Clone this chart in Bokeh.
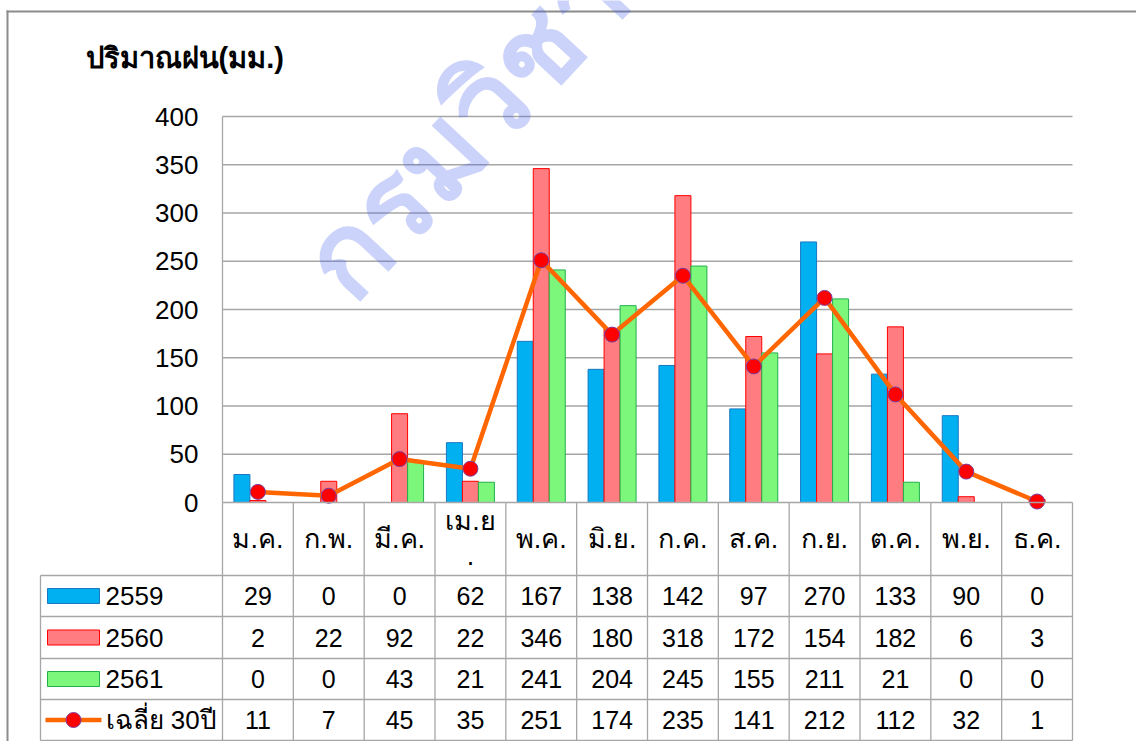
import numpy as np
from bokeh.plotting import figure
from bokeh.models import Range1d, LinearAxis, FixedTicker
from bokeh.core.properties import value
from bokeh.embed import file_html
from bokeh.resources import INLINE

# ---------------- data ----------------
months = ["ม.ค.", "ก.พ.", "มี.ค.", "เม.ย.", "พ.ค.", "มิ.ย.",
          "ก.ค.", "ส.ค.", "ก.ย.", "ต.ค.", "พ.ย.", "ธ.ค."]
series_names = ["2559", "2560", "2561"]
rain_2559 = [29, 0, 0, 62, 167, 138, 142, 97, 270, 133, 90, 0]
rain_2560 = [2, 22, 92, 22, 346, 180, 318, 172, 154, 182, 6, 3]
rain_2561 = [0, 0, 43, 21, 241, 204, 245, 155, 211, 21, 0, 0]
avg_name = "เฉลี่ย 30ปี"
avg_30yr = [11, 7, 45, 35, 251, 174, 235, 141, 212, 112, 32, 1]
y_ticks = [0, 50, 100, 150, 200, 250, 300, 350, 400]
y_title = "ปริมาณฝน(มม.)"
watermark = "กรมวิชาการเกษตร"

# ---------------- layout constants (picture pixels) ----------------
W, H = 1136, 741
PX = 850 / 12          # pixels per category
PY = 386 / 400         # pixels per mm
LEFT = 222             # x of plot-area left edge
ZERO = 502             # y of value 0


def X(px):
    return (px - LEFT) / PX


def Y(py):
    return (ZERO - py) / PY


FONT = value("Liberation Sans")
GRID = "#A6A6A6"
TXT = "#000000"

p = figure(width=W, height=H,
           x_range=Range1d(X(0), X(W)),
           y_range=Range1d(Y(H), Y(0)),
           x_axis_type=None, y_axis_type=None,
           output_backend="svg", toolbar_location=None, min_border=0)
p.outline_line_color = None
p.background_fill_color = "white"
p.border_fill_color = "white"

n = len(months)
cat = np.arange(n) + 0.5

# outer chart border (top and left visible)
p.segment(x0=[X(6), X(7)], y0=[Y(11), Y(10)],
          x1=[X(W), X(7)], y1=[Y(11), Y(H)],
          line_color="#8C8C8C", line_width=2)

# gridlines
gt = y_ticks[1:]
p.segment(x0=[0] * len(gt), x1=[n] * len(gt), y0=gt, y1=gt,
          line_color=GRID, line_width=1.3)

# y axis (real axis at plot-area left)
yaxis = LinearAxis(ticker=FixedTicker(ticks=y_ticks), fixed_location=0,
                   bounds=(y_ticks[0], y_ticks[-1]))
yaxis.axis_line_color = GRID
yaxis.axis_line_width = 1.3
yaxis.major_tick_line_color = None
yaxis.minor_tick_line_color = None
yaxis.major_tick_out = 0
yaxis.major_tick_in = 0
yaxis.major_label_standoff = 24
yaxis.major_label_text_font_size = "26px"
yaxis.major_label_text_font = "Liberation Sans"
yaxis.major_label_text_color = TXT
p.add_layout(yaxis, "left")

# watermark (behind the data marks)
p.text(x=[X(323)], y=[Y(279)], text=[watermark], angle=0.82,
       text_align="left", text_baseline="alphabetic", text_font=FONT,
       text_font_size="115px", text_font_style="bold",
       text_color="#4862EE", text_alpha=0.28)

# bars
bw = 16 / PX
fills = ["#00B0F0", "#FF7C80", "#7CF77C"]
lines = ["#1A78C2", "#FF0000", "#22B04B"]
series = [rain_2559, rain_2560, rain_2561]
for k, vals in enumerate(series):
    p.vbar(x=cat + (k - 1) * bw, top=vals, bottom=0, width=bw,
           fill_color=fills[k], line_color=lines[k], line_width=1)

# 30-year average line
p.line(cat, avg_30yr, line_color="#FF6600", line_width=4.5)
p.scatter(cat, avg_30yr, size=15, fill_color="#FF0000",
          line_color="#7B3F9E", line_width=1)

# ---------------- data table ----------------
row_edges = [575, 616, 658, 699, 740]
row_centers = [(a + b) / 2 for a, b in zip(row_edges[:-1], row_edges[1:])]

# horizontal lines
p.segment(x0=[0], x1=[n], y0=[0], y1=[0], line_color=GRID, line_width=1.3)
p.segment(x0=[X(40)] * len(row_edges), x1=[n] * len(row_edges),
          y0=[Y(r) for r in row_edges], y1=[Y(r) for r in row_edges],
          line_color=GRID, line_width=1.3)
# vertical lines
p.segment(x0=list(range(n + 1)), x1=list(range(n + 1)),
          y0=[0] * (n + 1), y1=[Y(row_edges[-1])] * (n + 1),
          line_color=GRID, line_width=1.3)
p.segment(x0=[X(40)], x1=[X(40)], y0=[Y(row_edges[0])], y1=[Y(row_edges[-1])],
          line_color=GRID, line_width=1.3)

# month header
month_disp = [m if m != "เม.ย." else "เม.ย\n." for m in months]
p.text(x=cat, y=[Y(538)] * n, text=month_disp, text_align="center",
       text_baseline="middle", text_font=FONT, text_font_size="27px",
       text_color=TXT, text_line_height=1.15)

# values
all_rows = series + [avg_30yr]
for r, vals in enumerate(all_rows):
    p.text(x=cat, y=[Y(row_centers[r])] * n, text=[str(v) for v in vals],
           text_align="center", text_baseline="middle", text_font=FONT,
           text_font_size="25px", text_color=TXT)

# legend keys
for k in range(3):
    c = row_centers[k]
    p.quad(left=[X(47)], right=[X(99)], top=[Y(c - 7.5)], bottom=[Y(c + 7.5)],
           fill_color=fills[k], line_color=lines[k], line_width=1)
c = row_centers[3]
p.segment(x0=[X(45)], x1=[X(101)], y0=[Y(c)], y1=[Y(c)],
          line_color="#FF6600", line_width=4.5)
p.scatter([X(73)], [Y(c)], size=15, fill_color="#FF0000",
          line_color="#7B3F9E", line_width=1)
names = series_names + [avg_name]
p.text(x=[X(105)] * 4, y=[Y(c) for c in row_centers], text=names,
       text_align="left", text_baseline="middle", text_font=FONT,
       text_font_size="26px", text_color=TXT)

# title
p.text(x=[X(85)], y=[Y(57)], text=[y_title], text_align="left",
       text_baseline="middle", text_font=FONT, text_font_size="29px",
       text_font_style="bold", text_color=TXT)

open("out.html", "w").write(file_html(p, INLINE))
